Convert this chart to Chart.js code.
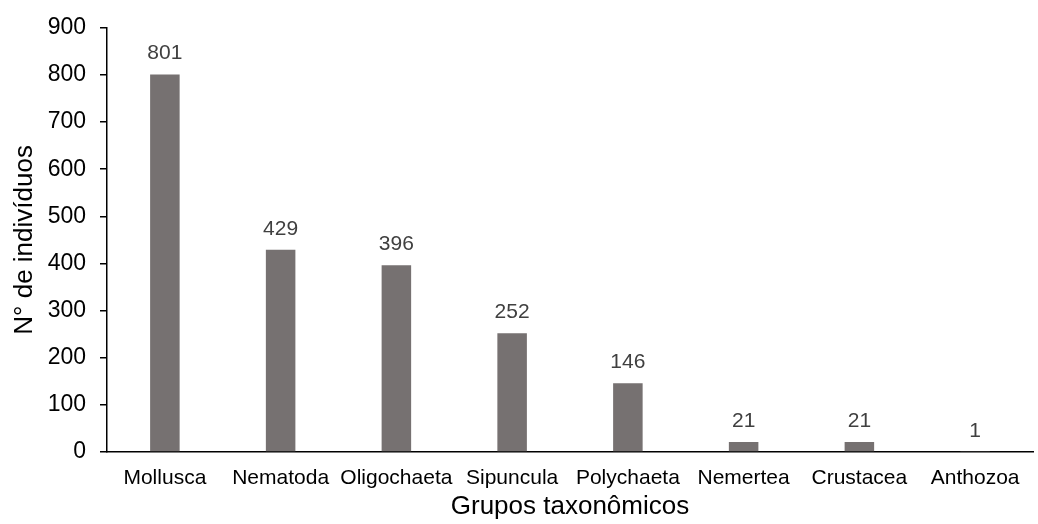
<!DOCTYPE html>
<html>
<head>
<meta charset="utf-8">
<script src="https://cdn.jsdelivr.net/npm/chart.js@4"></script>
<style>
  html, body { margin: 0; padding: 0; background: #fff; }
  #wrap { width: 1038px; height: 524px; }
</style>
</head>
<body>
<div id="wrap"><canvas id="c" width="1038" height="524"></canvas></div>
<script>
const categories = ["Mollusca", "Nematoda", "Oligochaeta", "Sipuncula", "Polychaeta", "Nemertea", "Crustacea", "Anthozoa"];
const counts = [801, 429, 396, 252, 146, 21, 21, 1];
const yTicks = [0, 100, 200, 300, 400, 500, 600, 700, 800, 900];

const FONT = "'Liberation Sans', Arial, sans-serif";

// Writes each bar's value just above it
const valueLabels = {
  id: 'valueLabels',
  afterDatasetsDraw(chart) {
    const ctx = chart.ctx;
    const meta = chart.getDatasetMeta(0);
    ctx.save();
    ctx.font = "21px " + FONT;
    ctx.fillStyle = "#404040";
    ctx.textAlign = "center";
    ctx.textBaseline = "alphabetic";
    meta.data.forEach((bar, i) => {
      ctx.fillText(String(chart.data.datasets[0].data[i]), bar.x, bar.y - 15);
    });
    ctx.restore();
  }
};

new Chart(document.getElementById('c'), {
  type: 'bar',
  data: {
    labels: categories,
    datasets: [{
      data: counts,
      backgroundColor: '#767171',
      borderWidth: 0,
      barPercentage: 0.255,
      categoryPercentage: 1.0
    }]
  },
  options: {
    responsive: false,
    animation: false,
    devicePixelRatio: 1,
    layout: { padding: { top: 25, right: 5, left: 0, bottom: 0 } },
    plugins: { legend: { display: false }, tooltip: { enabled: false } },
    scales: {
      x: {
        afterFit(scale) { scale.height = 72; },
        grid: { display: false },
        border: { display: true, color: '#000', width: 1.5 },
        ticks: { color: '#000', font: { family: FONT, size: 21 }, padding: 6, maxRotation: 0, autoSkip: false },
        title: { display: true, text: 'Grupos taxonômicos', color: '#000', font: { family: FONT, size: 26 }, padding: { top: 0, bottom: 2 } }
      },
      y: {
        min: 0,
        max: 900,
        afterBuildTicks(scale) { scale.ticks = yTicks.map(v => ({ value: v })); },
        afterFit(scale) { scale.width = 107; },
        grid: { display: true, drawOnChartArea: false, drawTicks: true, tickLength: 7, color: '#000', lineWidth: 1.5 },
        border: { display: true, color: '#000', width: 1.5 },
        ticks: { color: '#000', font: { family: FONT, size: 23 }, padding: 14 },
        title: { display: true, text: 'N° de indivíduos', color: '#000', font: { family: FONT, size: 26 }, padding: { top: 9, bottom: 0 } }
      }
    }
  },
  plugins: [valueLabels]
});
</script>
</body>
</html>
